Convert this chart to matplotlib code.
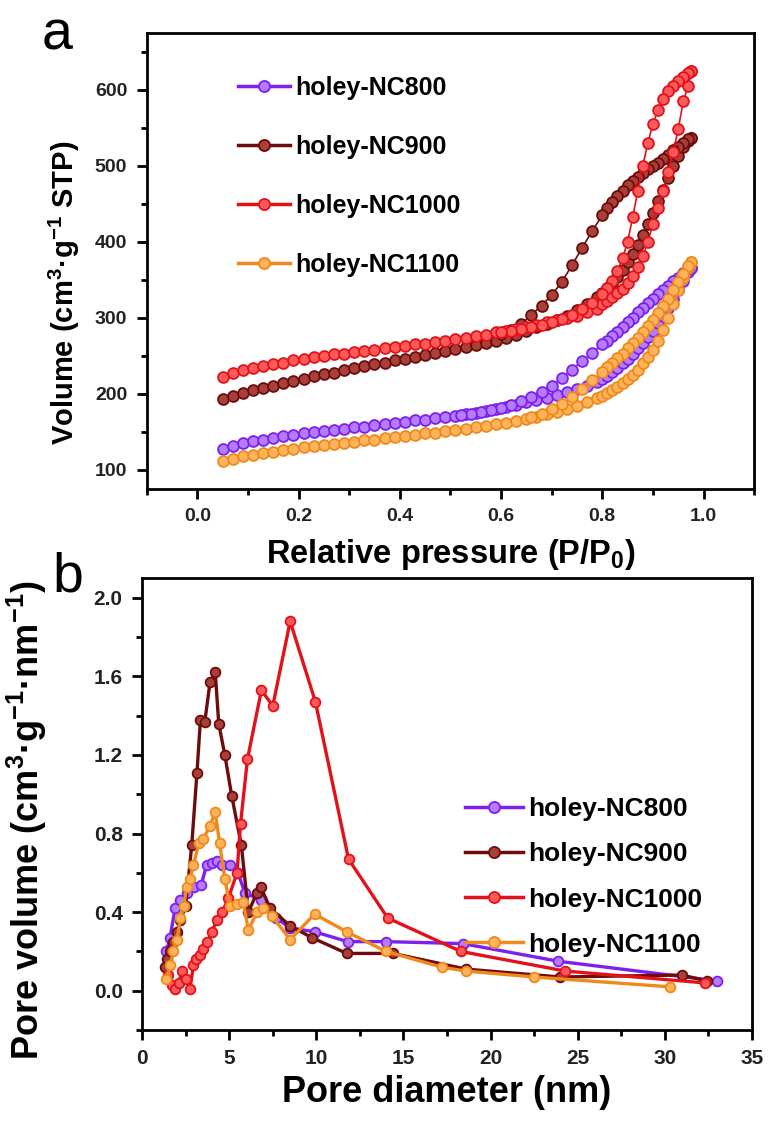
import matplotlib
matplotlib.use("Agg")
from matplotlib import pyplot as plt
from matplotlib.lines import Line2D
from matplotlib.ticker import MultipleLocator, FormatStrFormatter

plt.rcParams['font.family'] = ['Liberation Sans', 'DejaVu Sans']
plt.rcParams['mathtext.fontset'] = 'custom'
plt.rcParams['mathtext.rm'] = 'Liberation Sans:bold'
plt.rcParams['mathtext.bf'] = 'Liberation Sans:bold'
plt.rcParams['mathtext.default'] = 'bf'

labels = ['holey-NC800', 'holey-NC900', 'holey-NC1000', 'holey-NC1100']
colors = ['#7E1FF0', '#6E0B0B', '#E3121A', '#F0891C']
faces = ['#B47CFF', '#A8403A', '#FF5A5A', '#FFB35A']

# --- panel a: N2 isotherms ---
ads_p = [0.05, 0.07, 0.09, 0.11, 0.13, 0.15, 0.17, 0.19, 0.21, 0.23, 0.25, 0.27, 0.29,
         0.31, 0.33, 0.35, 0.37, 0.39, 0.41, 0.43, 0.45, 0.47, 0.49, 0.51, 0.53, 0.55,
         0.57, 0.59, 0.61, 0.63, 0.65, 0.67, 0.69, 0.71, 0.73, 0.75, 0.77, 0.79,
         0.80, 0.81, 0.82, 0.83, 0.84, 0.85, 0.86, 0.87, 0.88, 0.89, 0.90, 0.91, 0.92,
         0.93, 0.94, 0.95, 0.96, 0.97, 0.975]
des_p = [0.975, 0.97, 0.96, 0.95, 0.94, 0.93, 0.92, 0.91, 0.90, 0.89, 0.88, 0.87, 0.86,
         0.85, 0.84, 0.83, 0.82, 0.81, 0.80, 0.78, 0.76, 0.74, 0.72, 0.70, 0.68, 0.66,
         0.64, 0.62, 0.60, 0.58, 0.56, 0.54, 0.52, 0.50, 0.48, 0.46, 0.44]

ads_800 = [128, 132, 135, 138, 140, 142, 144, 146, 148, 150, 151, 153, 154, 156, 157, 159,
           160, 162, 163, 165, 166, 168, 170, 171, 173, 175, 177, 180, 183, 186, 189, 192,
           195, 198, 202, 206, 211, 216,
           220, 224, 229, 234, 240, 246, 253, 260, 267, 275, 283, 293, 303, 313, 325, 337,
           349, 360, 365]
des_800 = [365, 364, 359, 353, 348, 342, 336, 331, 325, 319, 313, 307, 300, 294, 288, 282,
           276, 270, 265, 254, 243, 232, 221, 211, 203, 196, 190, 186, 182, 179, 176, 174, 172]

ads_900 = [193, 197, 201, 205, 208, 211, 214, 217, 220, 223, 226, 228, 231, 234, 236, 239,
           241, 244, 246, 249, 251, 254, 256, 259, 262, 264, 267, 270, 274, 278, 283, 288,
           292, 297, 303, 310, 318, 327,
           333, 339, 346, 354, 363, 373, 384, 396, 409, 423, 438, 453, 468, 484, 499, 513,
           525, 533, 537]
des_900 = [537, 535, 530, 525, 520, 514, 509, 504, 499, 495, 490, 485, 480, 474, 467, 460,
           452, 444, 435, 414, 392, 369, 347, 330, 316, 304, 292, 284, 279]

ads_1000 = [222, 227, 231, 234, 237, 239, 241, 244, 246, 248, 250, 252, 253, 255, 257, 258,
            260, 261, 263, 265, 266, 268, 270, 272, 274, 276, 278, 281, 283, 285, 288, 291,
            294, 297, 300, 303, 307, 312,
            318, 322, 327, 332, 338, 346, 355, 367, 381, 400, 423, 444, 467, 492, 518, 548,
            585, 605, 624]
des_1000 = [624, 622, 617, 612, 605, 598, 588, 573, 555, 530, 500, 467, 432, 400, 378, 362,
            349, 339, 331, 320, 311, 304, 299, 295, 291, 288, 285, 283, 281]

ads_1100 = [112, 115, 118, 120, 122, 124, 126, 128, 130, 131, 133, 134, 136, 137, 139, 140,
            142, 143, 145, 146, 148, 149, 151, 153, 154, 156, 158, 160, 162, 164, 167, 170,
            173, 176, 180, 184, 189, 194,
            197, 201, 205, 209, 214, 219, 225, 232, 240, 249, 258, 270, 284, 300, 318, 336,
            352, 366, 373]
des_1100 = [373, 368, 358, 347, 336, 325, 315, 306, 297, 289, 281, 274, 267, 260, 253, 247,
            241, 235, 229, 218, 207, 196, 187, 180, 174, 169]

# --- panel b: BJH pore size distribution ---
d_800 = [1.4, 1.6, 1.9, 2.2, 2.6, 3.0, 3.4, 3.7, 4.0, 4.3, 4.6, 5.05, 5.5, 5.9, 6.8, 7.7,
         8.5, 9.9, 11.8, 14.0, 18.4, 23.9, 33.0]
v_800 = [0.20, 0.27, 0.42, 0.46, 0.50, 0.53, 0.54, 0.64, 0.65, 0.66, 0.64, 0.64, 0.60,
         0.50, 0.46, 0.37, 0.32, 0.30, 0.25, 0.25, 0.24, 0.15, 0.05]

d_900 = [1.3, 1.45, 1.6, 1.8, 2.0, 2.2, 2.5, 2.85, 3.15, 3.35, 3.6, 3.9, 4.2, 4.4, 4.75,
         5.15, 5.7, 6.1, 6.6, 6.8, 7.35, 8.5, 9.75, 11.75, 14.4, 18.6, 24.0, 31.0, 32.4]
v_900 = [0.12, 0.16, 0.20, 0.25, 0.30, 0.36, 0.43, 0.74, 1.11, 1.38, 1.37, 1.57, 1.62,
         1.36, 1.20, 0.99, 0.74, 0.40, 0.50, 0.53, 0.42, 0.33, 0.27, 0.19, 0.19, 0.11,
         0.07, 0.08, 0.05]

d_1000 = [1.5, 1.7, 1.9, 2.1, 2.3, 2.5, 2.75, 2.95, 3.1, 3.3, 3.5, 3.75, 4.0, 4.3, 4.6,
          4.95, 5.45, 5.65, 6.05, 6.85, 7.5, 8.5, 9.95, 11.85, 14.1, 18.3, 24.3, 32.3]
v_1000 = [0.08, 0.03, 0.01, 0.04, 0.10, 0.06, 0.01, 0.13, 0.16, 0.18, 0.21, 0.25, 0.30,
          0.36, 0.40, 0.47, 0.60, 0.85, 1.18, 1.53, 1.45, 1.88, 1.47, 0.67, 0.37, 0.20,
          0.10, 0.04]

d_1100 = [1.4, 1.6, 1.8, 2.0, 2.2, 2.4, 2.55, 2.75, 2.95, 3.25, 3.5, 3.9, 4.2, 4.45, 4.75,
          5.05, 5.45, 5.8, 6.1, 6.6, 6.95, 7.45, 8.5, 9.9, 11.75, 14.0, 17.2, 18.6, 22.5, 30.3]
v_1100 = [0.06, 0.13, 0.20, 0.26, 0.37, 0.43, 0.53, 0.57, 0.64, 0.75, 0.77, 0.84, 0.91,
          0.75, 0.57, 0.43, 0.44, 0.45, 0.31, 0.40, 0.42, 0.38, 0.26, 0.39, 0.30, 0.20,
          0.12, 0.10, 0.07, 0.02]

iso = [(ads_800, des_800), (ads_900, des_900), (ads_1000, des_1000), (ads_1100, des_1100)]
psd = [(d_800, v_800), (d_900, v_900), (d_1000, v_1000), (d_1100, v_1100)]

fig = plt.figure(figsize=(7.68, 11.24), dpi=100)
ax1 = fig.add_axes([0.191, 0.565, 0.791, 0.406])
ax2 = fig.add_axes([0.185, 0.0836, 0.794, 0.402])

# isotherms, orange under purple, red on top
for i in [3, 0, 1, 2]:
    ads, des = iso[i]
    ax1.plot(ads_p, ads, '-o', color=colors[i], mfc=faces[i], mec=colors[i],
             ms=7.8, mew=1.3, lw=1.2, zorder=3 + i)
    ax1.plot(des_p[:len(des)], des, '-o', color=colors[i], mfc=faces[i], mec=colors[i],
             ms=7.8, mew=1.3, lw=1.2, zorder=3 + i)

for i in range(4):
    d, v = psd[i]
    ax2.plot(d, v, '-o', color=colors[i], mfc=faces[i], mec=colors[i],
             ms=7, mew=1.3, lw=2.4, zorder=3 + i)

ax1.set_xlim(-0.1, 1.1)
ax1.set_ylim(75, 675)
ax1.xaxis.set_major_locator(MultipleLocator(0.2))
ax1.xaxis.set_minor_locator(MultipleLocator(0.1))
ax1.yaxis.set_minor_locator(MultipleLocator(50))
ax1.set_yticks([100, 200, 300, 400, 500, 600])
ax1.xaxis.set_major_formatter(FormatStrFormatter('%.1f'))

ax2.set_xlim(0, 35)
ax2.set_ylim(-0.2, 2.1)
ax2.xaxis.set_major_locator(MultipleLocator(5))
ax2.xaxis.set_minor_locator(MultipleLocator(2.5))
ax2.yaxis.set_minor_locator(MultipleLocator(0.2))
ax2.set_yticks([0.0, 0.4, 0.8, 1.2, 1.6, 2.0])
ax2.yaxis.set_major_formatter(FormatStrFormatter('%.1f'))

for ax, fs in [(ax1, 14), (ax2, 15)]:
    for s in ax.spines.values():
        s.set_linewidth(2.0)
    ax.tick_params(which='major', direction='out', length=7, width=2, pad=7,
                   labelsize=fs, labelcolor='#222222', top=False, right=False)
    ax.tick_params(which='minor', direction='out', length=4, width=2,
                   top=False, right=False)
    for t in ax.get_xticklabels() + ax.get_yticklabels():
        t.set_fontweight('bold')

ax1.set_xlabel('Relative pressure (P/P$_0$)', fontsize=23.5, fontweight='bold')
ax1.set_ylabel('Volume (cm$^3$·g$^{-1}$ STP)', fontsize=21, fontweight='bold')
ax1.xaxis.set_label_coords(0.5, -0.105)
ax1.yaxis.set_label_coords(-0.107, 0.43)

ax2.set_xlabel('Pore diameter (nm)', fontsize=26, fontweight='bold')
ax2.set_ylabel('Pore volume (cm$^3$·g$^{-1}$·nm$^{-1}$)', fontsize=26, fontweight='bold')
ax2.xaxis.set_label_coords(0.5, -0.1)
ax2.yaxis.set_label_coords(-0.152, 0.465)

handles = [Line2D([], [], color=colors[i], marker='o', mfc=faces[i], mec=colors[i],
                  ms=8, mew=1.3, lw=2.5) for i in range(4)]

ax1.legend(handles, labels, loc='upper left', bbox_to_anchor=(0.15, 0.905),
           frameon=False, prop={'weight': 'bold', 'size': 18},
           handlelength=2.1, handletextpad=0.2, labelspacing=1.4,
           borderpad=0, borderaxespad=0)
ax2.legend(handles, labels, loc='upper left', bbox_to_anchor=(0.53, 0.515),
           frameon=False, prop={'weight': 'bold', 'size': 19},
           handlelength=2.2, handletextpad=0.2, labelspacing=0.8,
           borderpad=0, borderaxespad=0)

fig.text(0.074, 0.968, 'a', fontsize=40, ha='center', va='center')
fig.text(0.088, 0.486, 'b', fontsize=40, ha='center', va='center')

fig.savefig('out.png', dpi=100)
